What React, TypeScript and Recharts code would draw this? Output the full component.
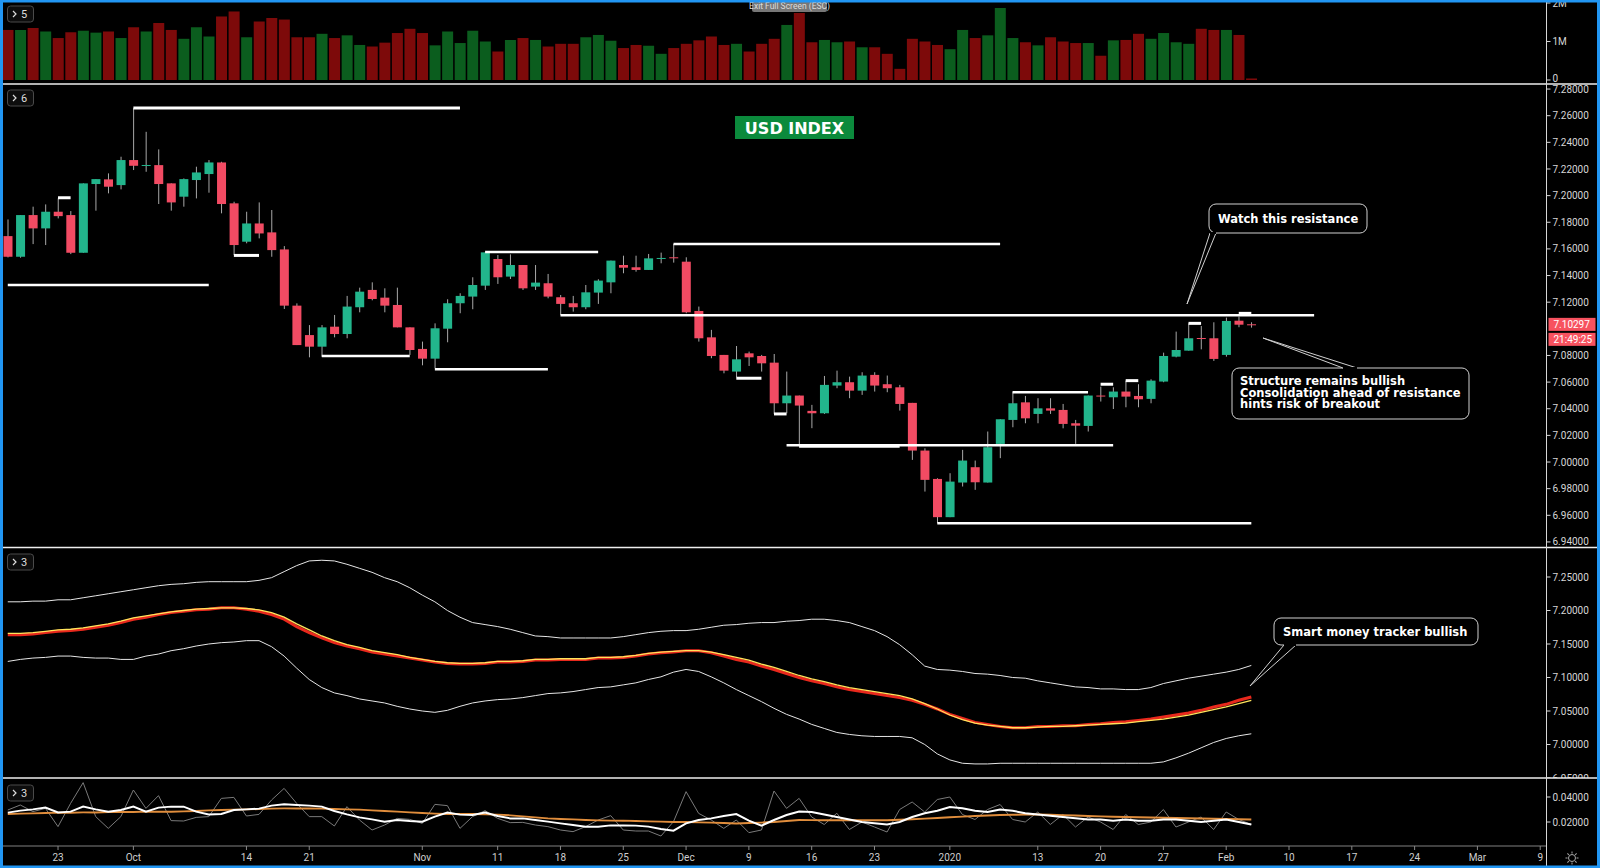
import React from 'react'
import { ComposedChart, Bar, Line, XAxis, YAxis, ReferenceLine, Cell } from 'recharts'

// daily candles, 17 Sep 2019 .. 5 Feb 2020 (index 0..99), axis runs on to index 122 (9 Mar)
const opens = [
  7.1696, 7.1541, 7.1854, 7.1754, 7.1879, 7.1854, 7.1571, 7.2087, 7.2122, 7.2079,
  7.2267, 7.2224, 7.2229, 7.2092, 7.1992, 7.2117, 7.2162, 7.2249, 7.1942, 7.1654,
  7.1791, 7.1724, 7.1596, 7.1174, 7.0953, 7.0866, 7.1016, 7.0961, 7.1162, 7.1292,
  7.1234, 7.1179, 7.1011, 7.0849, 7.0776, 7.1001, 7.1192, 7.1242, 7.1324, 7.1524,
  7.1392, 7.1479, 7.1317, 7.1342, 7.1237, 7.1192, 7.1162, 7.1272, 7.1349, 7.1479,
  7.1462, 7.1442, 7.1529, 7.1537, 7.1504, 7.1134, 7.0936, 7.0804, 7.0679, 7.0816,
  7.0796, 7.0746, 7.0441, 7.0499, 7.0384, 7.0366, 7.0574, 7.0599, 7.0536, 7.0654,
  7.0584, 7.0561, 7.0444, 7.0086, 6.9873, 6.9586, 6.9846, 6.9961, 6.9846, 7.0136,
  7.0316, 7.0448, 7.0361, 7.0403, 7.0391, 7.0291, 7.0271, 7.0499, 7.0486, 7.0529,
  7.0496, 7.0474, 7.0604, 7.0791, 7.0836, 7.0931, 7.0929, 7.0804, 7.1061, 7.1034,
]
const highs = [
  7.1821, 7.1854, 7.1917, 7.1934, 7.1979, 7.1884, 7.2092, 7.2124, 7.2167, 7.2292,
  7.2657, 7.2479, 7.2347, 7.2092, 7.2129, 7.2217, 7.2267, 7.2254, 7.1954, 7.1879,
  7.1949, 7.1892, 7.1621, 7.1191, 7.1028, 7.1028, 7.1104, 7.1247, 7.1309, 7.1349,
  7.1304, 7.1309, 7.1011, 7.0904, 7.1041, 7.1222, 7.1267, 7.1387, 7.1574, 7.1554,
  7.1559, 7.1479, 7.1479, 7.1412, 7.1254, 7.1247, 7.1329, 7.1372, 7.1512, 7.1549,
  7.1549, 7.1562, 7.1572, 7.1637, 7.1537, 7.1167, 7.0992, 7.0804, 7.0871, 7.0829,
  7.0804, 7.0811, 7.0679, 7.0499, 7.0429, 7.0646, 7.0686, 7.0641, 7.0674, 7.0674,
  7.0649, 7.0579, 7.0444, 7.0103, 6.9878, 6.9916, 7.0091, 7.0011, 7.0229, 7.0321,
  7.0529, 7.0496, 7.0479, 7.0479, 7.0436, 7.0316, 7.0499, 7.0566, 7.0561, 7.0611,
  7.0584, 7.0621, 7.0821, 7.0979, 7.1041, 7.1021, 7.1049, 7.1084, 7.1092, 7.1049,
]
const lows = [
  7.1536, 7.1534, 7.1636, 7.1629, 7.1829, 7.1561, 7.1571, 7.1887, 7.2017, 7.2047,
  7.2192, 7.2179, 7.1937, 7.1887, 7.1917, 7.1979, 7.2022, 7.1867, 7.1554, 7.1642,
  7.1679, 7.1541, 7.1149, 7.0878, 7.0786, 7.0791, 7.0936, 7.0929, 7.1124, 7.1214,
  7.1124, 7.1011, 7.0804, 7.0726, 7.0704, 7.0899, 7.1117, 7.1147, 7.1292, 7.1337,
  7.1374, 7.1292, 7.1292, 7.1229, 7.1104, 7.1129, 7.1147, 7.1187, 7.1267, 7.1417,
  7.1429, 7.1442, 7.1492, 7.1497, 7.1117, 7.0904, 7.0779, 7.0666, 7.0636, 7.0721,
  7.0679, 7.0361, 7.0366, 7.0128, 7.0254, 7.0361, 7.0554, 7.0479, 7.0504, 7.0529,
  7.0524, 7.0386, 7.0016, 6.9778, 6.9541, 6.9586, 6.9816, 6.9791, 6.9846, 7.0029,
  7.0261, 7.0291, 7.0291, 7.0361, 7.0253, 7.0136, 7.0229, 7.0454, 7.0398, 7.0411,
  7.0411, 7.0441, 7.0599, 7.0786, 7.0836, 7.0846, 7.0759, 7.0791, 7.1012, 7.1009,
]
const closes = [
  7.1541, 7.1854, 7.1754, 7.1879, 7.1846, 7.1571, 7.2092, 7.2124, 7.2067, 7.2267,
  7.2224, 7.2230, 7.2087, 7.1949, 7.2124, 7.2174, 7.2249, 7.1937, 7.1629, 7.1791,
  7.1716, 7.1591, 7.1174, 7.0878, 7.0866, 7.1011, 7.0961, 7.1167, 7.1279, 7.1224,
  7.1174, 7.1011, 7.0841, 7.0776, 7.1004, 7.1192, 7.1247, 7.1329, 7.1574, 7.1387,
  7.1479, 7.1304, 7.1347, 7.1242, 7.1187, 7.1162, 7.1274, 7.1362, 7.1512, 7.1459,
  7.1442, 7.1529, 7.1532, 7.1534, 7.1124, 7.0929, 7.0796, 7.0686, 7.0771, 7.0786,
  7.0741, 7.0441, 7.0499, 7.0424, 7.0366, 7.0579, 7.0599, 7.0536, 7.0649, 7.0574,
  7.0554, 7.0436, 7.0086, 6.9866, 6.9586, 6.9853, 7.0011, 6.9848, 7.0111, 7.0321,
  7.0441, 7.0328, 7.0403, 7.0386, 7.0286, 7.0273, 7.0499, 7.0496, 7.0529, 7.0491,
  7.0471, 7.0611, 7.0796, 7.0841, 7.0929, 7.0929, 7.0774, 7.1059, 7.1031, 7.10297,
]
// volume, millions
const volumes = [
  1.30, 1.30, 1.35, 1.26, 1.09, 1.24, 1.28, 1.23, 1.26, 1.09,
  1.37, 1.26, 1.48, 1.30, 1.07, 1.37, 1.13, 1.65, 1.78, 1.11,
  1.52, 1.61, 1.57, 1.11, 1.11, 1.20, 1.09, 1.16, 0.91, 0.87,
  0.97, 1.22, 1.33, 1.22, 0.90, 1.26, 0.96, 1.28, 1.00, 0.74,
  1.04, 1.09, 1.04, 0.87, 0.94, 0.94, 1.11, 1.17, 1.02, 0.83,
  0.91, 0.89, 0.68, 0.83, 0.94, 1.03, 1.13, 0.91, 0.94, 0.74,
  0.94, 1.07, 1.43, 1.74, 0.98, 1.04, 0.98, 1.00, 0.85, 0.85,
  0.68, 0.29, 1.07, 1.00, 0.91, 0.80, 1.30, 1.09, 1.16, 1.87,
  1.09, 0.98, 0.90, 1.11, 1.00, 0.96, 0.96, 0.63, 1.03, 1.04,
  1.20, 1.07, 1.22, 0.98, 0.94, 1.33, 1.30, 1.30, 1.17, 0.04,
]
// band pane
const bandUpper = [
  7.213, 7.213, 7.214, 7.214, 7.216, 7.216, 7.219, 7.222, 7.225, 7.228,
  7.231, 7.234, 7.237, 7.239, 7.240, 7.242, 7.243, 7.243, 7.243, 7.243,
  7.245, 7.249, 7.258, 7.267, 7.274, 7.275, 7.274, 7.269, 7.263, 7.257,
  7.249, 7.243, 7.234, 7.223, 7.213, 7.200, 7.190, 7.182, 7.179, 7.176,
  7.172, 7.167, 7.162, 7.161, 7.159, 7.159, 7.159, 7.159, 7.159, 7.161,
  7.164, 7.167, 7.169, 7.170, 7.170, 7.172, 7.175, 7.178, 7.179, 7.181,
  7.182, 7.182, 7.184, 7.185, 7.187, 7.187, 7.185, 7.182, 7.176, 7.170,
  7.161, 7.149, 7.134, 7.117, 7.112, 7.111, 7.109, 7.106, 7.105, 7.103,
  7.100, 7.099, 7.095, 7.092, 7.089, 7.086, 7.085, 7.083, 7.083, 7.082,
  7.082, 7.085, 7.091, 7.095, 7.099, 7.102, 7.105, 7.108, 7.112, 7.118,
]
const bandLower = [
  7.124, 7.127, 7.129, 7.130, 7.132, 7.132, 7.130, 7.129, 7.129, 7.127,
  7.127, 7.132, 7.135, 7.140, 7.143, 7.147, 7.150, 7.152, 7.153, 7.155,
  7.155, 7.146, 7.132, 7.114, 7.097, 7.085, 7.077, 7.073, 7.068, 7.065,
  7.062, 7.057, 7.053, 7.050, 7.048, 7.051, 7.057, 7.062, 7.065, 7.067,
  7.068, 7.070, 7.073, 7.076, 7.077, 7.079, 7.082, 7.085, 7.086, 7.089,
  7.092, 7.097, 7.101, 7.108, 7.112, 7.109, 7.101, 7.092, 7.082, 7.073,
  7.064, 7.054, 7.045, 7.038, 7.030, 7.024, 7.018, 7.015, 7.013, 7.012,
  7.012, 7.012, 7.010, 7.000, 6.986, 6.977, 6.972, 6.971, 6.971, 6.972,
  6.972, 6.972, 6.972, 6.972, 6.972, 6.972, 6.972, 6.972, 6.972, 6.972,
  6.972, 6.972, 6.974, 6.980, 6.987, 6.995, 7.003, 7.009, 7.013, 7.016,
]
const bandMid = [
  7.164, 7.164, 7.165, 7.167, 7.169, 7.170, 7.172, 7.175, 7.178, 7.182,
  7.187, 7.190, 7.194, 7.197, 7.199, 7.201, 7.202, 7.204, 7.204, 7.202,
  7.199, 7.194, 7.187, 7.176, 7.167, 7.159, 7.152, 7.147, 7.143, 7.138,
  7.135, 7.132, 7.129, 7.126, 7.123, 7.121, 7.120, 7.120, 7.121, 7.123,
  7.123, 7.124, 7.126, 7.126, 7.127, 7.127, 7.127, 7.129, 7.129, 7.130,
  7.132, 7.135, 7.137, 7.138, 7.140, 7.140, 7.137, 7.132, 7.127, 7.123,
  7.117, 7.112, 7.106, 7.100, 7.095, 7.091, 7.086, 7.082, 7.079, 7.076,
  7.073, 7.070, 7.066, 7.060, 7.053, 7.045, 7.039, 7.033, 7.030, 7.027,
  7.025, 7.025, 7.027, 7.027, 7.028, 7.028, 7.030, 7.031, 7.033, 7.034,
  7.036, 7.038, 7.041, 7.044, 7.047, 7.051, 7.056, 7.060, 7.066, 7.071,
]
const bandFast = [
  7.166, 7.166, 7.167, 7.169, 7.171, 7.172, 7.174, 7.177, 7.180, 7.184,
  7.189, 7.192, 7.195, 7.198, 7.200, 7.202, 7.203, 7.204, 7.204, 7.203,
  7.201, 7.197, 7.190, 7.180, 7.171, 7.162, 7.155, 7.149, 7.145, 7.140,
  7.137, 7.134, 7.130, 7.127, 7.124, 7.122, 7.121, 7.121, 7.122, 7.124,
  7.124, 7.125, 7.127, 7.127, 7.128, 7.128, 7.128, 7.130, 7.130, 7.131,
  7.133, 7.136, 7.138, 7.139, 7.140, 7.140, 7.138, 7.134, 7.130, 7.126,
  7.120, 7.115, 7.109, 7.103, 7.098, 7.094, 7.089, 7.085, 7.082, 7.079,
  7.076, 7.073, 7.068, 7.061, 7.053, 7.044, 7.037, 7.032, 7.029, 7.027,
  7.025, 7.025, 7.026, 7.027, 7.027, 7.028, 7.029, 7.030, 7.031, 7.032,
  7.034, 7.036, 7.038, 7.041, 7.044, 7.048, 7.052, 7.056, 7.061, 7.066,
]
// oscillator pane
const oscRaw = [
  0.0296, 0.0336, 0.0283, 0.0309, 0.0163, 0.0349, 0.0515, 0.0243, 0.0149, 0.0243,
  0.0456, 0.0309, 0.0411, 0.0211, 0.0208, 0.0237, 0.0243, 0.0389, 0.0397, 0.0248,
  0.0261, 0.0376, 0.0469, 0.0349, 0.0243, 0.0243, 0.0168, 0.0323, 0.0216, 0.0136,
  0.0176, 0.0229, 0.0221, 0.0189, 0.0341, 0.0331, 0.0149, 0.0243, 0.0291, 0.0229,
  0.0195, 0.0197, 0.0176, 0.0163, 0.0136, 0.0123, 0.0163, 0.0216, 0.0251, 0.0136,
  0.0128, 0.0128, 0.0088, 0.0203, 0.0443, 0.0269, 0.0216, 0.0149, 0.0216, 0.0115,
  0.0136, 0.0448, 0.0309, 0.0389, 0.0240, 0.0180, 0.0270, 0.0140, 0.0200, 0.0160,
  0.0120, 0.0300, 0.0360, 0.0280, 0.0380, 0.0400, 0.0260, 0.0220, 0.0300, 0.0340,
  0.0220, 0.0200, 0.0280, 0.0180, 0.0260, 0.0160, 0.0240, 0.0200, 0.0140, 0.0260,
  0.0180, 0.0200, 0.0300, 0.0160, 0.0200, 0.0240, 0.0140, 0.0280, 0.0220, 0.0180,
]
const oscFast = [
  0.0275, 0.0291, 0.0301, 0.0315, 0.0277, 0.0283, 0.0323, 0.0301, 0.0283, 0.0296,
  0.0323, 0.0283, 0.0315, 0.0323, 0.0323, 0.0283, 0.0261, 0.0264, 0.0296, 0.0301,
  0.0307, 0.0331, 0.0341, 0.0336, 0.0331, 0.0323, 0.0288, 0.0261, 0.0237, 0.0221,
  0.0203, 0.0216, 0.0208, 0.0203, 0.0243, 0.0275, 0.0259, 0.0256, 0.0275, 0.0248,
  0.0229, 0.0229, 0.0216, 0.0203, 0.0189, 0.0176, 0.0163, 0.0163, 0.0173, 0.0173,
  0.0171, 0.0163, 0.0144, 0.0131, 0.0189, 0.0216, 0.0229, 0.0248, 0.0264, 0.0211,
  0.0171, 0.0216, 0.0256, 0.0283, 0.0280, 0.0260, 0.0240, 0.0220, 0.0200, 0.0190,
  0.0180, 0.0200, 0.0240, 0.0270, 0.0290, 0.0320, 0.0310, 0.0290, 0.0280, 0.0300,
  0.0290, 0.0270, 0.0260, 0.0250, 0.0240, 0.0230, 0.0220, 0.0220, 0.0210, 0.0220,
  0.0210, 0.0210, 0.0220, 0.0220, 0.0210, 0.0200, 0.0210, 0.0220, 0.0200, 0.0180,
]
const oscSlow = [
  0.0264, 0.0267, 0.0269, 0.0272, 0.0275, 0.0275, 0.0277, 0.0277, 0.0280, 0.0280,
  0.0280, 0.0283, 0.0283, 0.0283, 0.0285, 0.0288, 0.0293, 0.0296, 0.0299, 0.0301,
  0.0304, 0.0307, 0.0309, 0.0309, 0.0309, 0.0307, 0.0304, 0.0301, 0.0299, 0.0293,
  0.0288, 0.0283, 0.0277, 0.0272, 0.0267, 0.0264, 0.0264, 0.0264, 0.0261, 0.0259,
  0.0253, 0.0245, 0.0237, 0.0229, 0.0224, 0.0221, 0.0216, 0.0213, 0.0211, 0.0211,
  0.0208, 0.0205, 0.0203, 0.0200, 0.0200, 0.0197, 0.0195, 0.0192, 0.0189, 0.0192,
  0.0195, 0.0200, 0.0208, 0.0216, 0.0215, 0.0215, 0.0215, 0.0215, 0.0215, 0.0215,
  0.0215, 0.0218, 0.0222, 0.0227, 0.0232, 0.0238, 0.0243, 0.0248, 0.0252, 0.0256,
  0.0258, 0.0260, 0.0260, 0.0258, 0.0255, 0.0252, 0.0248, 0.0245, 0.0242, 0.0240,
  0.0238, 0.0236, 0.0234, 0.0232, 0.0230, 0.0228, 0.0226, 0.0224, 0.0222, 0.0220,
]
// drawn support / resistance levels: [from index, to index, price, thickness]
const levels: [number, number, number, number][] = [
  [10, 36, 7.2657, 3],
  [0, 16, 7.1329, 2.5],
  [4, 5, 7.1984, 3],
  [18, 20, 7.1551, 3],
  [25, 32, 7.0796, 2.5],
  [34, 43, 7.0696, 2.5],
  [38, 47, 7.1577, 2.5],
  [44, 104, 7.1102, 2.5],
  [53, 79, 7.1637, 2.5],
  [58, 60, 7.0629, 3],
  [61, 62, 7.0361, 3],
  [62, 88, 7.0125, 2.5],
  [63, 71, 7.0118, 3],
  [74, 99, 6.9541, 2.5],
  [80, 86, 7.0524, 2.5],
  [87, 88, 7.0584, 3],
  [89, 90, 7.0611, 3],
  [94, 95, 7.1041, 3],
  [98, 99, 7.1116, 3],
]
const timeTickIdx = [4, 10, 19, 24, 33, 39, 44, 49, 54, 59, 64, 69, 75, 82, 87, 92, 97, 102, 107, 112, 117, 122]
const timeTickText = ['23', 'Oct', '14', '21', 'Nov', '11', '18', '25', 'Dec', '9', '16', '23', '2020', '13', '20', '27', 'Feb', '10', '17', '24', 'Mar', '9']
// 7.10000 sits under the last-price tag, so it is left out as in the source
const priceTicks = [6.94, 6.96, 6.98, 7.0, 7.02, 7.04, 7.06, 7.08, 7.12, 7.14, 7.16, 7.18, 7.2, 7.22, 7.24, 7.26, 7.28]
const bandTicks = [6.95, 7.0, 7.05, 7.1, 7.15, 7.2, 7.25]
const oscTicks = [0.02, 0.04]
const volTicks = [0, 1, 2]
const lastPrice = 7.10297

const SLOTS = 123
const UP = '#22b58c'
const DOWN = '#f24b63'
const WICK = '#a8a8a8'
const AXIS = '#d6d6d6'
const W = 1600
const AXIS_W = 53.5
// line-only panes use a point scale; half a slot of padding lines them up with the bar panes
const HALF_SLOT = (W - 1.5 - AXIS_W) / SLOTS / 2

const rows = Array.from({ length: SLOTS }, (_, i) => ({
  i,
  o: opens[i],
  h: highs[i],
  l: lows[i],
  c: closes[i],
  v: volumes[i],
  up: bandUpper[i],
  lo: bandLower[i],
  mid: bandMid[i],
  fast: bandFast[i],
  raw: oscRaw[i],
  of: oscFast[i],
  os: oscSlow[i],
}))

function Candle(props: any) {
  const { x, width, payload } = props
  let { y, height } = props
  if (payload == null || payload.h == null) return null
  if (height < 0) {
    y += height
    height = -height
  }
  const span = payload.h - payload.l || 1e-9
  const k = height / span
  const top = y + (payload.h - Math.max(payload.o, payload.c)) * k
  const bodyH = Math.max(1, Math.abs(payload.o - payload.c) * k)
  const cx = x + width / 2
  return (
    <g>
      <line x1={cx} x2={cx} y1={y} y2={y + height} stroke={WICK} strokeWidth={1} />
      <rect x={x} y={top} width={width} height={bodyH} fill={payload.c >= payload.o ? UP : DOWN} />
    </g>
  )
}

function TimeTick(props: any) {
  const { x, payload } = props
  const k = timeTickIdx.indexOf(payload.value)
  if (k < 0) return <g />
  return (
    <g>
      <line x1={x} x2={x} y1={67} y2={71} stroke="#888" />
      <text x={x} y={82} textAnchor="middle" fill="#cfcfcf" fontSize={10} fontFamily="Roboto, sans-serif">
        {timeTickText[k]}
      </text>
    </g>
  )
}

// volume labels: the zero label is lifted so it stays inside its pane
function VolTick(props: any) {
  const { x, y, payload } = props
  const v = payload.value
  const ty = v === 0 ? y - 2 : y
  return (
    <text x={x} y={ty} dy="0.355em" fill={AXIS} fontSize={10} fontFamily="Roboto, sans-serif">
      {v === 0 ? '0' : `${v}M`}
    </text>
  )
}

function PriceTag(props: any) {
  const vb = props.viewBox || {}
  const x = (vb.x || 0) + (vb.width || 0) + 2
  const cy = vb.y || 0
  return (
    <g fontFamily="Roboto, sans-serif" fontSize={10} fill="#fff">
      <rect x={x} y={cy - 7} width={47} height={13} fill="#f7525f" />
      <text x={x + 5} y={cy + 3.5} fill="#fff">{lastPrice.toFixed(5)}</text>
      <rect x={x} y={cy + 8} width={47} height={13} fill="#f7525f" />
      <text x={x + 5} y={cy + 18.5} fill="#fff">21:49:25</text>
    </g>
  )
}

const yTick = { fill: AXIS, fontSize: 10, fontFamily: 'Roboto, sans-serif' }
const margin = { top: 0, right: 0, bottom: 0, left: 1.5 }
const pointPad = { left: HALF_SLOT, right: HALF_SLOT }

function Pane({ top, height, children }: { top: number; height: number; children: React.ReactNode }) {
  return <div style={{ position: 'absolute', left: 0, top, width: W, height }}>{children}</div>
}

function PaneTag({ y, n }: { y: number; n: string }) {
  return (
    <g>
      <rect x={7.5} y={y} width={26} height={16} rx={3} fill="#0d0d0d" stroke="#4a4a4a" />
      <polyline points={`13,${y + 5} 16,${y + 8} 13,${y + 11}`} fill="none" stroke="#ddd" strokeWidth={1.2} />
      <text x={21} y={y + 12} fill="#ddd" fontSize={11} fontFamily="Roboto, sans-serif">{n}</text>
    </g>
  )
}

function Callout({ x, y, w, h, tail, lines, tx, ty, lh }: any) {
  return (
    <g>
      <rect x={x} y={y} width={w} height={h} rx={7} fill="#000" stroke="#d0d0d0" strokeWidth={1} />
      <path d={`M${tail[0]},${tail[1]} L${tail[4]},${tail[5]} L${tail[2]},${tail[3]}`} fill="#000" stroke="#d0d0d0" strokeWidth={1} />
      <line x1={tail[0]} y1={tail[1]} x2={tail[2]} y2={tail[3]} stroke="#000" strokeWidth={2} />
      {lines.map((t: string, k: number) => (
        <text key={k} x={tx} y={ty + k * lh} fill="#fff" fontSize={11.5} fontWeight="bold" fontFamily="'DejaVu Sans', sans-serif">
          {t}
        </text>
      ))}
    </g>
  )
}

export default function App() {
  return (
    <div style={{ position: 'fixed', left: 0, top: 0, width: W, height: 868, background: '#000', overflow: 'hidden' }}>
      <Pane top={0} height={84}>
        <ComposedChart width={W} height={84} data={rows} margin={margin}>
          <XAxis dataKey="i" type="category" hide />
          <YAxis orientation="right" width={AXIS_W} domain={[-0.104, 2.078]} allowDataOverflow ticks={volTicks}
            tick={<VolTick />} tickSize={4} interval={0}
            axisLine={{ stroke: AXIS }} tickLine={{ stroke: AXIS }} />
          <Bar dataKey="v" barSize={11} isAnimationActive={false}>
            {rows.map((r) => (
              <Cell key={r.i} fill={r.c >= r.o ? '#0b5d1e' : '#7d0a0a'} />
            ))}
          </Bar>
        </ComposedChart>
      </Pane>

      <Pane top={84} height={463}>
        <ComposedChart width={W} height={463} data={rows} margin={margin}>
          <XAxis dataKey="i" type="category" hide />
          <YAxis orientation="right" width={AXIS_W} domain={[6.9362, 7.2838]} allowDataOverflow ticks={priceTicks}
            tickFormatter={(v: number) => v.toFixed(5)} tick={yTick} tickSize={4}
            axisLine={{ stroke: AXIS }} tickLine={{ stroke: AXIS }} interval={0} />
          {levels.map(([a, b, p, sw], k) => (
            <ReferenceLine key={k} segment={[{ x: a, y: p }, { x: b, y: p }]} stroke="#fff" strokeWidth={sw} ifOverflow="visible" />
          ))}
          <Bar dataKey={(d: any) => (d.h == null ? null : [d.l, d.h])} barSize={9} shape={<Candle />} isAnimationActive={false} />
          <ReferenceLine y={lastPrice} stroke="none" label={(p: any) => <PriceTag {...p} />} />
        </ComposedChart>
      </Pane>

      <Pane top={548} height={230}>
        <ComposedChart width={W} height={230} data={rows} margin={margin}>
          <XAxis dataKey="i" type="category" hide padding={pointPad} />
          <YAxis orientation="right" width={AXIS_W} domain={[6.95, 7.2933]} allowDataOverflow ticks={bandTicks}
            tickFormatter={(v: number) => v.toFixed(5)} tick={yTick} tickSize={4}
            axisLine={{ stroke: AXIS }} tickLine={{ stroke: AXIS }} interval={0} />
          <Line dataKey="up" stroke="#e6e6e6" strokeWidth={1} dot={false} isAnimationActive={false} />
          <Line dataKey="lo" stroke="#e6e6e6" strokeWidth={1} dot={false} isAnimationActive={false} />
          <Line dataKey="mid" stroke="#e8281c" strokeWidth={3} dot={false} isAnimationActive={false} />
          <Line dataKey="fast" stroke="#ffe45c" strokeWidth={1.3} dot={false} isAnimationActive={false} />
        </ComposedChart>
      </Pane>

      <Pane top={779} height={89}>
        <ComposedChart width={W} height={89} data={rows} margin={margin}>
          <XAxis dataKey="i" type="category" height={22} interval={0} tick={<TimeTick />} tickLine={false}
            axisLine={{ stroke: '#808080' }} padding={pointPad} />
          <YAxis orientation="right" width={AXIS_W} domain={[0.0008, 0.0544]} allowDataOverflow ticks={oscTicks}
            tickFormatter={(v: number) => v.toFixed(5)} tick={yTick} tickSize={4}
            axisLine={{ stroke: AXIS }} tickLine={{ stroke: AXIS }} />
          <Line dataKey="raw" stroke="#7a7a7a" strokeWidth={1} dot={false} isAnimationActive={false} />
          <Line dataKey="os" stroke="#e08d3c" strokeWidth={2} dot={false} isAnimationActive={false} />
          <Line dataKey="of" stroke="#ffffff" strokeWidth={2} dot={false} isAnimationActive={false} />
        </ComposedChart>
      </Pane>

      <svg width={W} height={868} style={{ position: 'absolute', left: 0, top: 0, pointerEvents: 'none' }}>
        {/* pane separators */}
        <line x1={0} x2={W} y1={84} y2={84} stroke="#eee" strokeWidth={1.5} />
        <line x1={0} x2={W} y1={547.5} y2={547.5} stroke="#eee" strokeWidth={1.5} />
        <line x1={0} x2={W} y1={778} y2={778} stroke="#eee" strokeWidth={1.5} />
        <line x1={1546.5} x2={1546.5} y1={0} y2={868} stroke={AXIS} strokeWidth={1} />

        <PaneTag y={6} n="5" />
        <PaneTag y={90} n="6" />
        <PaneTag y={554} n="3" />
        <PaneTag y={785} n="3" />

        <rect x={752} y={0} width={75} height={12} rx={2} fill="#777" />
        <text x={789.5} y={9} textAnchor="middle" fill="#dcdcdc" fontSize={8.5} fontFamily="Roboto, sans-serif">Exit Full Screen (ESC)</text>

        <rect x={735} y={116} width={119} height={23} fill="#0b8a3c" />
        <text x={794.5} y={133.5} textAnchor="middle" fill="#fff" fontSize={16} fontWeight="bold" fontFamily="'DejaVu Sans', sans-serif">USD INDEX</text>

        <Callout x={1209} y={204} w={158} h={29} tail={[1210, 233, 1216, 233, 1187, 304]}
          lines={['Watch this resistance']} tx={1218} ty={222.5} lh={12} />
        <Callout x={1232} y={368} w={237} h={51} tail={[1343, 368, 1357, 368, 1263, 338]}
          lines={['Structure remains bullish', 'Consolidation ahead of resistance', 'hints risk of breakout']}
          tx={1240} ty={385} lh={11.7} />
        <Callout x={1274} y={618} w={204} h={27} tail={[1284, 645, 1296, 645, 1250, 686]}
          lines={['Smart money tracker bullish']} tx={1283} ty={636} lh={12} />

        <g transform="translate(1572,858)" stroke="#aaa" strokeWidth={1} fill="none">
          <circle r={3.5} />
          {[0, 45, 90, 135, 180, 225, 270, 315].map((a) => (
            <line key={a} x1={0} y1={-4.5} x2={0} y2={-6.5} transform={`rotate(${a})`} />
          ))}
        </g>

        <rect x={1.5} y={1} width={W - 3} height={866} fill="none" stroke="#2196f3" strokeWidth={3} />
      </svg>
    </div>
  )
}
